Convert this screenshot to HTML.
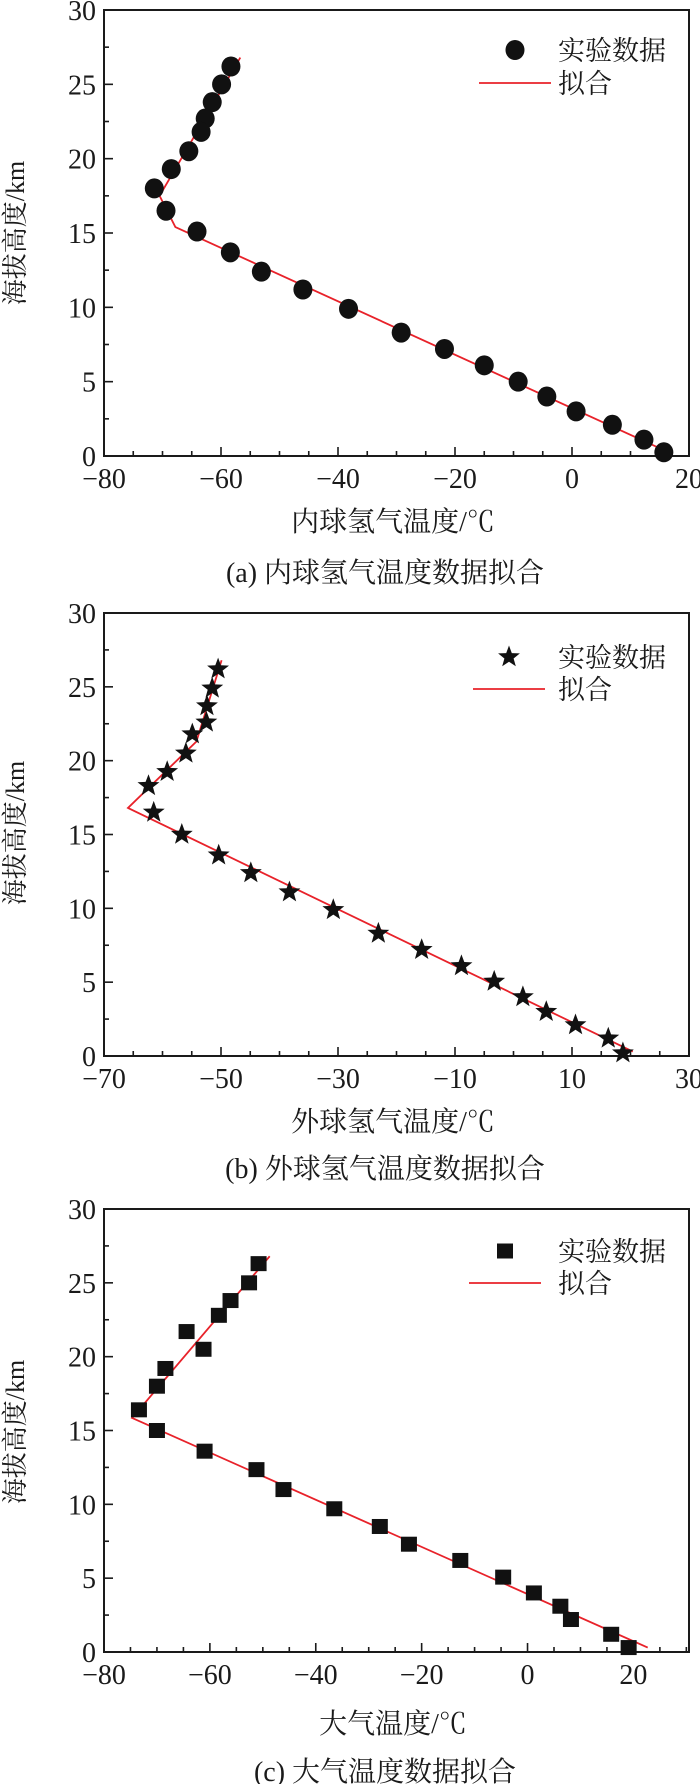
<!DOCTYPE html>
<html><head><meta charset="utf-8"><style>
body{margin:0;background:#fff}
svg{display:block}
text{font-family:"Liberation Serif","Noto Serif CJK SC","Noto Sans CJK SC",serif;fill:#1a1a1a}
</style></head><body>
<svg id="fig" width="700" height="1784" viewBox="0 0 700 1784" xmlns="http://www.w3.org/2000/svg"></svg>
<script>
// Panel (a) data
const aTemp=[-58.3,-59.9,-61.5,-62.7,-63.4,-65.5,-68.5,-71.4,-69.4,-64.1,-58.4,-53.1,-46.0,-38.2,-29.2,-21.8,-15.0,-9.2,-4.3,0.7,6.9,12.3,15.7];
const aHeight=[26.2,25.0,23.8,22.7,21.8,20.5,19.3,18.0,16.5,15.1,13.7,12.4,11.2,9.9,8.3,7.2,6.1,5.0,4.0,3.0,2.1,1.1,0.25];
const aFitTemp=[-56.7,-70.5,-67.8,16.9];
const aFitHeight=[26.8,17.5,15.4,0.18];
const aXTicks=[-80,-60,-40,-20,0,20];
// Panel (b) data
const bTemp=[-50.5,-51.5,-52.4,-52.5,-54.9,-56.0,-59.2,-62.4,-61.5,-56.7,-50.4,-44.9,-38.3,-30.8,-23.1,-15.7,-8.9,-3.3,1.6,5.6,10.6,16.2,18.7];
const bHeight=[26.2,24.9,23.7,22.6,21.8,20.5,19.25,18.3,16.5,15.0,13.6,12.4,11.1,9.9,8.3,7.2,6.1,5.05,4.0,3.0,2.1,1.2,0.2];
const bFitTemp=[-49.9,-54.2,-65.9,20.4];
const bFitHeight=[26.8,21.3,16.8,0.3];
const bXTicks=[-70,-50,-30,-10,10,30];
// Panel (c) data
const cTemp=[-50.8,-52.6,-56.1,-58.3,-64.4,-61.2,-68.4,-70.0,-73.4,-70.0,-61.0,-51.2,-46.1,-36.5,-27.9,-22.4,-12.7,-4.6,1.2,6.2,8.2,15.8,19.1];
const cHeight=[26.3,25.0,23.8,22.8,21.7,20.5,19.2,18.0,16.4,15.0,13.6,12.35,11.0,9.7,8.5,7.3,6.2,5.07,4.0,3.1,2.2,1.2,0.3];
const cFitTemp=[-48.7,-74.7,22.7];
const cFitHeight=[26.8,15.85,0.3];
const cXTicks=[-80,-60,-40,-20,0,20];
const yTicks=[0,5,10,15,20,25,30];

const NS='http://www.w3.org/2000/svg';
const svg=document.getElementById('fig');
function mk(tag,attrs,parent,txt){const e=document.createElementNS(NS,tag);for(const k in attrs)e.setAttribute(k,attrs[k]);if(txt!==undefined)e.textContent=txt;(parent||svg).appendChild(e);return e;}

function panel(o){
  const g=mk('g',{});
  
  
  const L=104,R=689,T=o.top,B=o.bottom;
  const sx=v=>L+(v-o.xmin)/(o.xmax-o.xmin)*(R-L);
  const sy=v=>B-(v/30)*(B-T);
  const frame=mk('rect',{x:L,y:T,width:R-L,height:B-T,fill:'none',stroke:'#1a1a1a','stroke-width':2},g);
  
  
  for(let v=Math.ceil(o.xmin/5)*5; v<=o.xmax+0.01; v+=5){
    const major=o.xticks.includes(v);
    const t=mk('line',{x1:sx(v),x2:sx(v),y1:B,y2:B-(major?9:5),stroke:'#1a1a1a','stroke-width':1.6},g);
    
    
  }
  o.xticks.forEach(v=>{
    const lbl=(v<0?'\u2212'+(-v):''+v);
    const t=mk('text',{x:sx(v),y:B+32,'font-size':28,'text-anchor':'middle'},g,lbl);
    
    
  });
  for(let v=0;v<=30;v+=2.5){
    const major=v%5===0;
    const t=mk('line',{x1:L,x2:L+(major?9:5),y1:sy(v),y2:sy(v),stroke:'#1a1a1a','stroke-width':1.6},g);
    
    
  }
  yTicks.forEach(v=>{
    const t=mk('text',{x:96,y:sy(v)+10,'font-size':28,'text-anchor':'end'},g,''+v);
    
    
  });
  const yt=mk('text',{x:0,y:0,'font-size':26,'text-anchor':'middle',transform:`translate(24,${o.ytitleY}) rotate(-90)`},g,'海拔高度/km');
  
  
  const xt=mk('text',{x:393,y:o.xtitleY+10,'font-size':28,'text-anchor':'middle'},g,o.xtitle);
  
  
  const cap=mk('text',{x:385,y:o.capY+10,'font-size':28,'text-anchor':'middle'},g,o.caption);
  
  
  const pts=o.fitT.map((t,i)=>sx(t)+','+sy(o.fitH[i])).join(' ');
  const fl=mk('polyline',{points:pts,fill:'none',stroke:'#e8222a','stroke-width':1.8},g);
  
  
  o.temp.forEach((t,i)=>{
    const m=marker(o.marker,sx(t),sy(o.height[i]),g);
    
    
  });
  const lm=marker(o.marker,o.legX,o.legY1,g);
  
  
  const l1=mk('text',{x:558,y:o.legY1+10,'font-size':27},g,'实验数据');
  
  
  const ll=mk('line',{x1:o.legX-36,x2:o.legX+36,y1:o.legY2,y2:o.legY2,stroke:'#e8222a','stroke-width':1.8},g);
  
  
  const l2=mk('text',{x:558,y:o.legY2+10,'font-size':27},g,'拟合');
  
  
}
function marker(type,x,y,g){
  if(type==='circle')return mk('ellipse',{cx:x,cy:y,rx:9.5,ry:10,fill:'#111'},g);
  if(type==='square')return mk('rect',{x:x-8,y:y-7.5,width:16,height:15,fill:'#111'},g);
  const r=11.5,ri=4.8;let p=[];
  for(let k=0;k<10;k++){const a=-Math.PI/2+k*Math.PI/5;const rr=k%2?ri:r;p.push((x+rr*Math.cos(a)).toFixed(1)+','+(y+rr*Math.sin(a)).toFixed(1));}
  return mk('polygon',{points:p.join(' '),fill:'#111'},g);
}
panel({name:'panel-a',top:10,bottom:456,xmin:-80,xmax:20,xticks:aXTicks,temp:aTemp,height:aHeight,fitT:aFitTemp,fitH:aFitHeight,marker:'circle',xtitle:'内球氢气温度/℃',caption:'(a) 内球氢气温度数据拟合',xtitleY:521,capY:572,ytitleY:233,legX:515,legY1:50,legY2:83});
panel({name:'panel-b',top:613,bottom:1056,xmin:-70,xmax:30,xticks:bXTicks,temp:bTemp,height:bHeight,fitT:bFitTemp,fitH:bFitHeight,marker:'star',xtitle:'外球氢气温度/℃',caption:'(b) 外球氢气温度数据拟合',xtitleY:1121,capY:1168,ytitleY:833,legX:509,legY1:657,legY2:689});
panel({name:'panel-c',top:1209,bottom:1652,xmin:-80,xmax:30.5,xticks:cXTicks,temp:cTemp,height:cHeight,fitT:cFitTemp,fitH:cFitHeight,marker:'square',xtitle:'大气温度/℃',caption:'(c) 大气温度数据拟合',xtitleY:1723,capY:1771,ytitleY:1432,legX:505,legY1:1251,legY2:1283});
</script>
</body></html>
